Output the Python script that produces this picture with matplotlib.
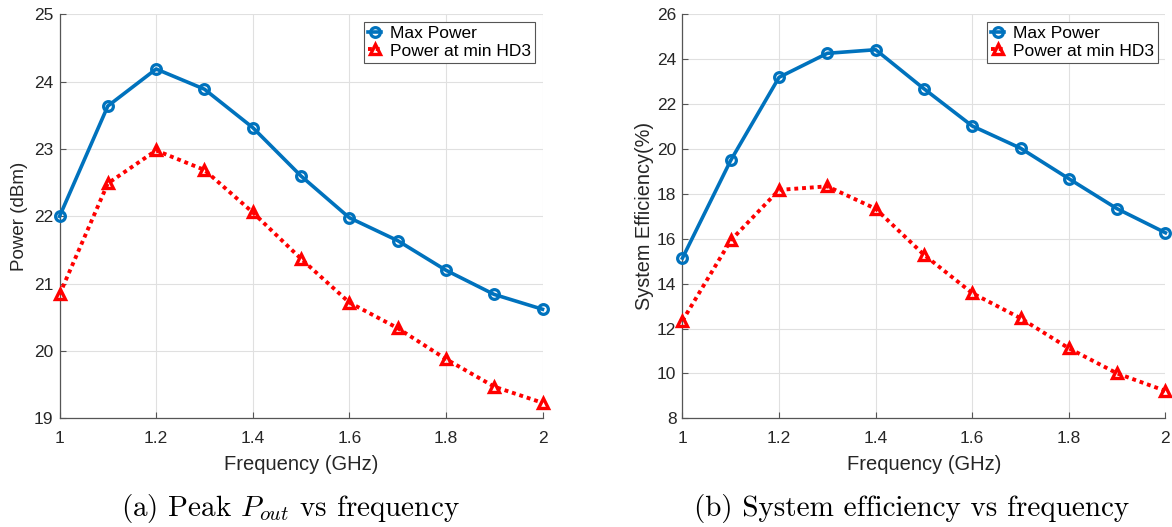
import matplotlib
matplotlib.use("Agg")
import matplotlib.pyplot as plt

plt.rcParams['font.family'] = ['Liberation Sans', 'DejaVu Sans']
plt.rcParams['mathtext.fontset'] = 'cm'

freq = [1.0, 1.1, 1.2, 1.3, 1.4, 1.5, 1.6, 1.7, 1.8, 1.9, 2.0]
power_max = [22.0, 23.64, 24.19, 23.89, 23.32, 22.60, 21.98, 21.64, 21.20, 20.84, 20.62]
power_hd3 = [20.84, 22.49, 22.98, 22.69, 22.06, 21.37, 20.72, 20.34, 19.88, 19.47, 19.23]
eff_max = [15.14, 19.50, 23.20, 24.27, 24.43, 22.69, 21.03, 20.04, 18.68, 17.34, 16.27]
eff_hd3 = [12.35, 15.93, 18.18, 18.34, 17.34, 15.29, 13.58, 12.46, 11.12, 10.00, 9.22]

legend_labels = ['Max Power', 'Power at min HD3']
xticks = [1, 1.2, 1.4, 1.6, 1.8, 2]
xticklabels = ['1', '1.2', '1.4', '1.6', '1.8', '2']
left_yticks = [19, 20, 21, 22, 23, 24, 25]
right_yticks = [8, 10, 12, 14, 16, 18, 20, 22, 24, 26]

BLUE = '#0072BD'
RED = '#FF0000'
AX = '#555555'
TXT = '#262626'

fig = plt.figure(figsize=(11.72, 5.27), dpi=100)
ax1 = fig.add_axes([0.0508, 0.2063, 0.4121, 0.7662])
ax2 = fig.add_axes([0.5823, 0.2063, 0.4121, 0.7662])


def style(ax, y1, y2, ticks, ylabel, ylab_size, ylab_x):
    l1, = ax.plot(freq, y1, '-o', color=BLUE, lw=2.6, ms=7.0, mew=2.3,
                  mfc='none', mec=BLUE, zorder=3, clip_on=False)
    l2, = ax.plot(freq, y2, '^', color=RED, ls=(0, (1.0, 1.0)), lw=2.8,
                  ms=7.8, mew=2.4, mfc='none', mec=RED, zorder=3,
                  clip_on=False, dash_capstyle='butt')
    ax.set_xlim(1, 2)
    ax.set_ylim(ticks[0], ticks[-1])
    ax.set_xticks(xticks)
    ax.set_xticklabels(xticklabels)
    ax.set_yticks(ticks)
    ax.grid(True, color='#e0e0e0', lw=0.8)
    ax.set_axisbelow(True)
    for s in ['top', 'right']:
        ax.spines[s].set_visible(False)
    for s in ['left', 'bottom']:
        ax.spines[s].set_color(AX)
        ax.spines[s].set_linewidth(0.9)
    ax.tick_params(axis='both', colors=AX, labelcolor=TXT,
                   labelsize=12.5, direction='in', length=4, width=0.8)
    ax.tick_params(axis='y', pad=4.3)
    ax.tick_params(axis='x', pad=9.5)
    ax.set_xlabel('Frequency (GHz)', fontsize=14.5, color=TXT)
    ax.xaxis.set_label_coords(0.5, -0.092)
    ax.set_ylabel(ylabel, fontsize=ylab_size, color=TXT)
    ax.yaxis.set_label_coords(ylab_x, 0.5)
    leg = ax.legend([l1, l2], legend_labels, loc='upper right',
                    bbox_to_anchor=(1.0, 1.0), fontsize=12.5,
                    handlelength=0.75, handletextpad=0.5, borderpad=0.25,
                    labelspacing=0.12, borderaxespad=0.42,
                    fancybox=False, framealpha=1)
    leg.get_frame().set_edgecolor(AX)
    leg.get_frame().set_linewidth(0.8)


style(ax1, power_max, power_hd3, left_yticks, 'Power (dBm)', 13.5, -0.066)
style(ax2, eff_max, eff_hd3, right_yticks, 'System Efficiency(%)', 14.3, -0.059)

fig.text(290 / 1172, 1 - 516 / 527, r'(a) Peak $P_{out}$ vs frequency',
         family='cmr10', ha='center', va='baseline', fontsize=21)
fig.text(912 / 1172, 1 - 516 / 527, r'(b) System efficiency vs frequency',
         family='cmr10', ha='center', va='baseline', fontsize=21)

fig.savefig('out.png', dpi=100)
